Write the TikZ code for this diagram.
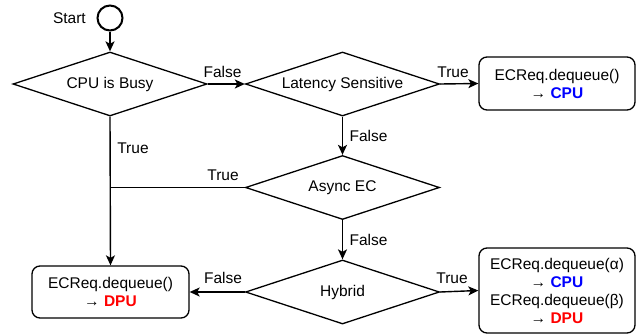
\documentclass[tikz,border=0pt]{standalone}
\usepackage{fontspec}
\setmainfont{Liberation Sans}
\usetikzlibrary{shapes.geometric,arrows.meta}
\definecolor{cpublue}{RGB}{0,0,255}
\definecolor{dpured}{RGB}{255,0,0}
\tikzset{
  base/.style={font=\fontsize{15.5}{18}\selectfont, line width=1.3pt},
  decision/.style={base, draw, diamond, aspect=3, inner sep=0pt, minimum width=194pt, minimum height=64pt},
  action/.style={base, draw, rounded corners=8pt, align=center, inner sep=0pt, minimum width=156pt},
  startnode/.style={draw, circle, line width=2pt, minimum size=25pt, inner sep=0pt},
  flow/.style={line width=1.4pt, -{Stealth[length=10pt,width=9pt,inset=2.5pt]}},
  plain/.style={line width=1.4pt},
  lbl/.style={font=\fontsize{15.5}{18}\selectfont, inner sep=0pt}
}
\begin{document}
\begin{tikzpicture}[x=1pt,y=-1pt]
\useasboundingbox (0,0) rectangle (641,335);
\node[startnode] (start) at (110,18) {};
\node[lbl, anchor=east] (startlbl) at (86,18) {Start};
\node[decision] (cpu) at (110,84) {CPU is Busy};
\node[decision] (lat) at (342.5,84) {Latency Sensitive};
\node[decision] (async) at (342.5,187.5) {Async EC};
\node[decision] (hyb) at (342.5,292) {Hybrid};
\node[action, minimum height=53pt] (boxcpu) at (557,83.5) {ECReq.dequeue()\\ → \textbf{\color{cpublue}CPU}};
\node[action, minimum width=157pt, minimum height=52pt] (boxdpu) at (110.5,292) {ECReq.dequeue()\\ → \textbf{\color{dpured}DPU}};
\node[action, minimum height=85pt] (boxhyb) at (557,290.5) {ECReq.dequeue(α)\\ → \textbf{\color{cpublue}CPU}\\ ECReq.dequeue(β)\\ → \textbf{\color{dpured}DPU}};
\coordinate (join) at (110,187.5);

\draw[flow] (start) -- (cpu.north);
\draw[flow] (cpu.east) -- (lat.west);
\draw[flow] (lat.east) -- (boxcpu.west);
\draw[flow] (lat.south) -- (async.north);
\draw[flow] (cpu.south) -- (boxdpu.north);
\draw[plain] (async.west) -- (join);
\draw[flow] (async.south) -- (hyb.north);
\draw[flow] (hyb.west) -- (boxdpu.east);
\draw[flow] (hyb.east) -- (boxhyb.west);

\node[lbl] (l1) at (222.5,72) {False};
\node[lbl] (l2) at (453,72) {True};
\node[lbl] (l3) at (368.5,136) {False};
\node[lbl] (l4) at (133,148) {True};
\node[lbl] (l5) at (223,175) {True};
\node[lbl] (l6) at (368.5,240) {False};
\node[lbl] (l7) at (223,278) {False};
\node[lbl] (l8) at (452,278) {True};
\end{tikzpicture}
\end{document}
